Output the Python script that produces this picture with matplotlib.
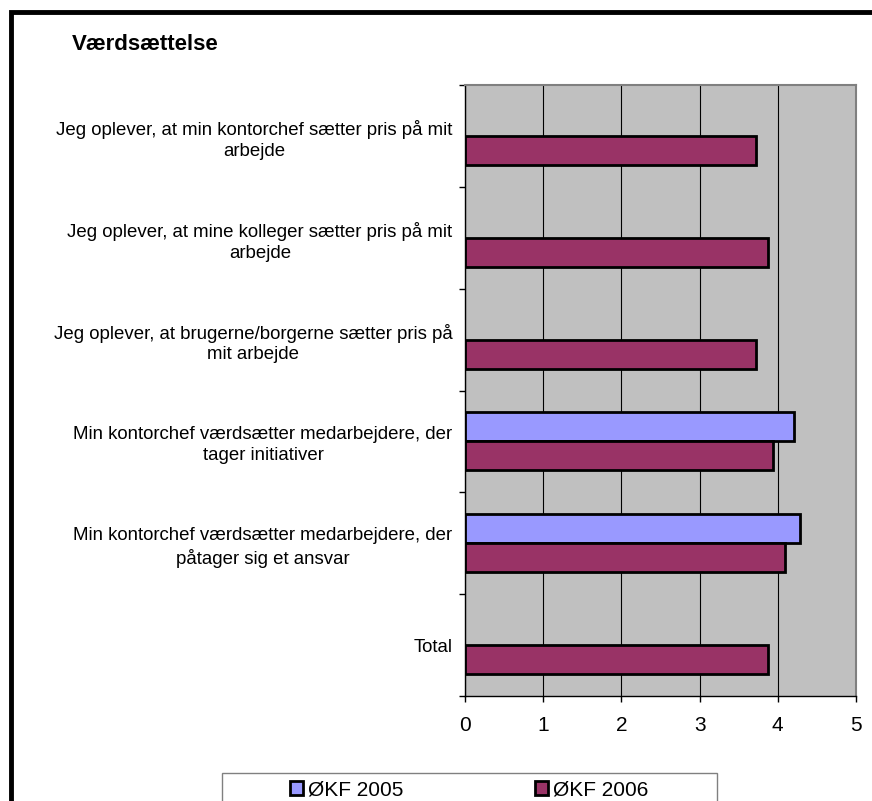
import numpy as np
import matplotlib
matplotlib.use("Agg")
import matplotlib.pyplot as plt
from matplotlib.patches import Rectangle

plt.rcParams['font.family'] = ['Liberation Sans', 'DejaVu Sans']

title = "Værdsættelse"
categories = [
    "Jeg oplever, at min kontorchef sætter pris på mit\narbejde",
    "Jeg oplever, at mine kolleger sætter pris på mit\narbejde",
    "Jeg oplever, at brugerne/borgerne sætter pris på\nmit arbejde",
    "Min kontorchef værdsætter medarbejdere, der\ntager initiativer",
    "Min kontorchef værdsætter medarbejdere, der\npåtager sig et ansvar",
    "Total",
]
series_names = ["ØKF 2005", "ØKF 2006"]
okf_2005 = [np.nan, np.nan, np.nan, 4.21, 4.28, np.nan]
okf_2006 = [3.72, 3.87, 3.72, 3.94, 4.09, 3.87]
x_ticks = [0, 1, 2, 3, 4, 5]

W, H = 872, 801
fig = plt.figure(figsize=(W / 100, H / 100), dpi=100)
fig.patch.set_facecolor("white")

ax = fig.add_axes([465 / W, 1 - 696 / H, (856 - 465) / W, (696 - 85) / H])
ax.set_facecolor("#C0C0C0")

y = np.arange(len(categories))
bh = 0.285
b1 = ax.barh(y - bh / 2, okf_2005, height=bh, color="#9999FF", edgecolor="black",
             linewidth=2.0, label=series_names[0], zorder=3)
b2 = ax.barh(y + bh / 2, okf_2006, height=bh, color="#993366", edgecolor="black",
             linewidth=2.0, label=series_names[1], zorder=3)

ax.set_xlim(0, 5)
ax.set_ylim(len(categories) - 0.5, -0.5)
ax.set_xticks(x_ticks)
ax.set_xticklabels([str(t) for t in x_ticks], fontsize=15)
ax.xaxis.grid(True, color="black", linewidth=0.8, zorder=1)
ax.set_axisbelow(True)

ax.set_yticks(y)
ax.set_yticklabels(categories, fontsize=13.4, multialignment="center", linespacing=1.3)
ax.set_yticks(np.arange(-0.5, len(categories), 1.0), minor=True)
ax.tick_params(axis="y", which="major", length=0, pad=9)
ax.tick_params(axis="y", which="minor", length=4, width=1, color="black", direction="out")
ax.tick_params(axis="x", which="major", length=4.5, width=1, color="black", direction="out", pad=10)

for side in ["top", "right"]:
    ax.spines[side].set_color("#808080")
    ax.spines[side].set_linewidth(1.5)
for side in ["left", "bottom"]:
    ax.spines[side].set_color("black")
    ax.spines[side].set_linewidth(1.0)

fig.text(72 / W, 1 - 45 / H, title, fontsize=16, fontweight="bold", va="center", ha="left")

# legend box
fig.patches.append(Rectangle((222 / W, -0.05), (717 - 222) / W, 0.05 + (801 - 773) / H,
                             transform=fig.transFigure, facecolor="white",
                             edgecolor="#808080", linewidth=1.0, clip_on=False))
fig.legend(handles=[b1, b2], labels=series_names, loc="center",
           bbox_to_anchor=((222 + 717) / 2 / W, 1 - 790 / H), ncol=2, frameon=False,
           fontsize=15, handlelength=0.62, handleheight=0.62, handletextpad=0.25,
           columnspacing=6.3, borderpad=0.0)

# outer black border
fig.patches.append(Rectangle((11 / W, -0.1), 1.2, 1.1 - 12.5 / H,
                             transform=fig.transFigure, facecolor="none",
                             edgecolor="black", linewidth=3.5, clip_on=False))

fig.savefig("out.png", dpi=100)
